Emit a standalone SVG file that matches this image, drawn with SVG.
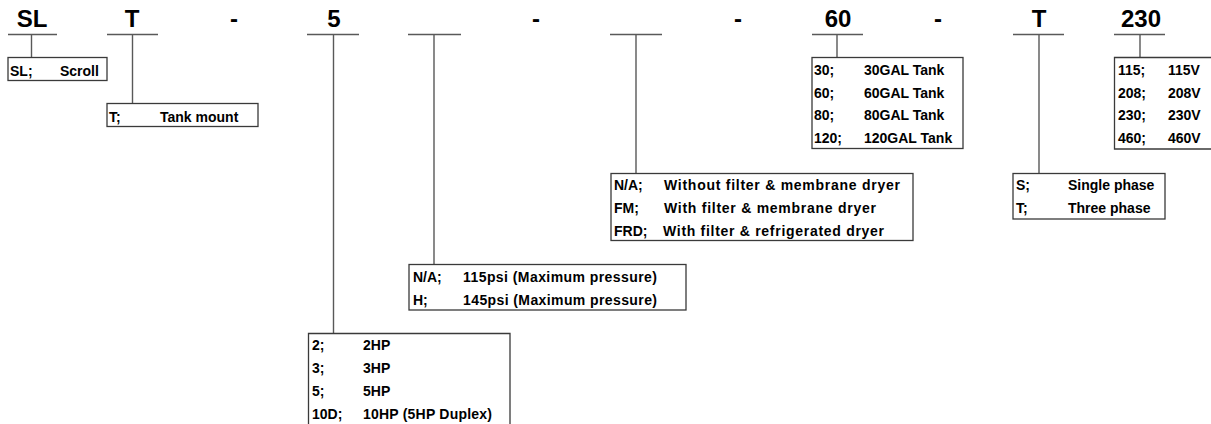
<svg xmlns="http://www.w3.org/2000/svg" width="1211" height="424" viewBox="0 0 1211 424">
<style>
.h{font-family:"Liberation Sans",Arial,sans-serif;font-weight:bold;font-size:24px;fill:#000;text-anchor:middle}
.t{font-family:"Liberation Sans",Arial,sans-serif;font-weight:bold;font-size:14px;fill:#000}
.box{fill:#fff;stroke:#3a3a3a;stroke-width:1.3}
.c{stroke:#595959;stroke-width:1.4;fill:none}
</style>
<rect width="1211" height="424" fill="#fff"/>
<g id="headings">
<text class="h" x="32" y="27">SL</text>
<text class="h" x="132" y="27">T</text>
<text class="h" x="234" y="27">-</text>
<text class="h" x="334" y="27">5</text>
<text class="h" x="536" y="27">-</text>
<text class="h" x="738" y="27">-</text>
<text class="h" x="838" y="27">60</text>
<text class="h" x="938" y="27">-</text>
<text class="h" x="1039" y="27">T</text>
<text class="h" x="1141" y="27">230</text>
</g>
<g id="connectors">
<path class="c" d="M8 34.5H57M31.5 34.5V57"/>
<path class="c" d="M107 34.5H158M132.5 34.5V103"/>
<path class="c" d="M307 34.5H359M333.5 34.5V333"/>
<path class="c" d="M408 34.5H461M434 34.5V264"/>
<path class="c" d="M610 34.5H662M636 34.5V173"/>
<path class="c" d="M812 34.5H863M837 34.5V57"/>
<path class="c" d="M1013 34.5H1064M1039 34.5V173"/>
<path class="c" d="M1114 34.5H1165M1140 34.5V57"/>
</g>
<g id="node-series">
<rect class="box" x="8" y="57.5" width="99" height="23"/>
<text class="t" x="10" y="76">SL;</text>
<text class="t" x="60" y="76">Scroll</text>
</g>
<g id="node-mount">
<rect class="box" x="107" y="103.5" width="151" height="23"/>
<text class="t" x="109" y="122">T;</text>
<text class="t" x="160" y="122">Tank mount</text>
</g>
<g id="node-hp">
<path class="box" d="M308.5 425V333.5H510V425"/>
<text class="t" x="312" y="350">2;</text><text class="t" x="363" y="350">2HP</text>
<text class="t" x="312" y="373">3;</text><text class="t" x="363" y="373">3HP</text>
<text class="t" x="312" y="396">5;</text><text class="t" x="363" y="396">5HP</text>
<text class="t" x="312" y="419">10D;</text><text class="t" x="363" y="419" textLength="129" lengthAdjust="spacing">10HP (5HP Duplex)</text>
</g>
<g id="node-pressure">
<rect class="box" x="409" y="264.5" width="277" height="45.5"/>
<text class="t" x="413" y="282">N/A;</text><text class="t" x="463" y="282" textLength="194" lengthAdjust="spacing">115psi (Maximum pressure)</text>
<text class="t" x="413" y="305">H;</text><text class="t" x="463" y="305" textLength="194" lengthAdjust="spacing">145psi (Maximum pressure)</text>
</g>
<g id="node-dryer">
<rect class="box" x="611" y="173.5" width="302" height="67"/>
<text class="t" x="614" y="190">N/A;</text><text class="t" x="664" y="190" textLength="236" lengthAdjust="spacing">Without filter &amp; membrane dryer</text>
<text class="t" x="614" y="213">FM;</text><text class="t" x="664" y="213" textLength="212" lengthAdjust="spacing">With filter &amp; membrane dryer</text>
<text class="t" x="614" y="236">FRD;</text><text class="t" x="663" y="236" textLength="221" lengthAdjust="spacing">With filter &amp; refrigerated dryer</text>
</g>
<g id="node-tank">
<rect class="box" x="812" y="57.5" width="151" height="91"/>
<text class="t" x="814" y="75">30;</text><text class="t" x="864" y="75">30GAL Tank</text>
<text class="t" x="814" y="97.5">60;</text><text class="t" x="864" y="97.5">60GAL Tank</text>
<text class="t" x="814" y="120">80;</text><text class="t" x="864" y="120">80GAL Tank</text>
<text class="t" x="814" y="142.5">120;</text><text class="t" x="864" y="142.5">120GAL Tank</text>
</g>
<g id="node-phase">
<rect class="box" x="1013" y="173.5" width="152" height="45.5"/>
<text class="t" x="1016" y="190">S;</text><text class="t" x="1068" y="190">Single phase</text>
<text class="t" x="1016" y="213">T;</text><text class="t" x="1068" y="213">Three phase</text>
</g>
<g id="node-voltage">
<path class="box" d="M1215 57.5H1114.5V149H1215"/>
<text class="t" x="1118" y="75">115;</text><text class="t" x="1168" y="75">115V</text>
<text class="t" x="1118" y="97.5">208;</text><text class="t" x="1168" y="97.5">208V</text>
<text class="t" x="1118" y="120">230;</text><text class="t" x="1168" y="120">230V</text>
<text class="t" x="1118" y="142.5">460;</text><text class="t" x="1168" y="142.5">460V</text>
</g>
</svg>
